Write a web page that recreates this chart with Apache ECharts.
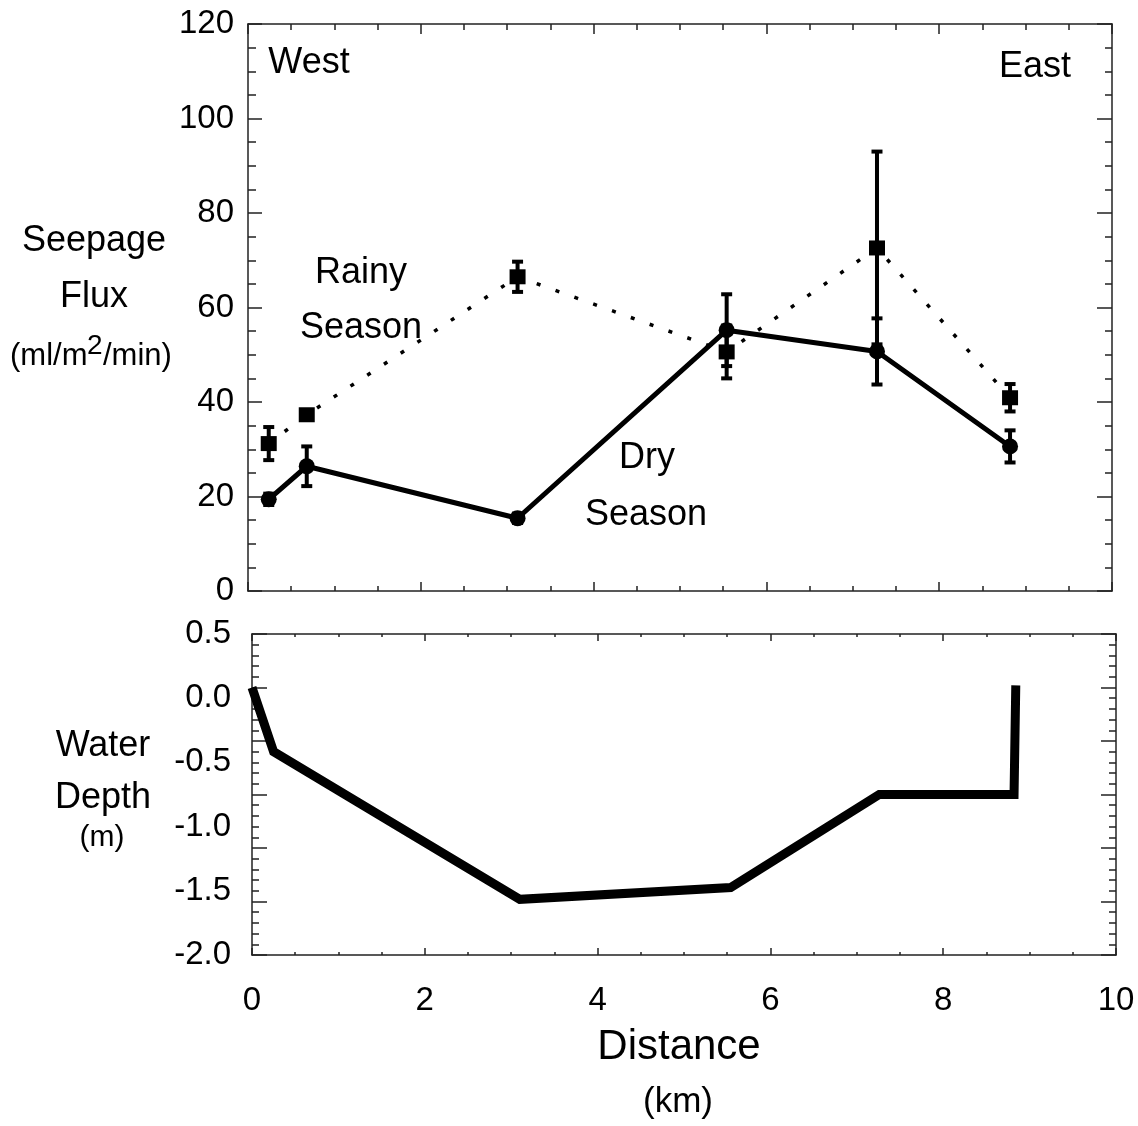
<!DOCTYPE html>
<html>
<head>
<meta charset="utf-8">
<script src="https://cdn.jsdelivr.net/npm/echarts@6/dist/echarts.min.js"></script>
<style>
html,body{margin:0;padding:0;background:#fff;}
#chart{width:1138px;height:1126px;}
</style>
</head>
<body>
<div id="chart"></div>
<script>
// ---- data ----
const distance = [0.24, 0.68, 3.12, 5.54, 7.28, 8.82];           // km
const rainyFlux = [31.2, 37.3, 66.5, 50.6, 72.6, 40.9];           // ml/m2/min
const rainyErr  = [3.5, 1.0, 3.2, 5.6, 20.4, 2.9];
const dryFlux   = [19.4, 26.4, 15.4, 55.2, 50.7, 30.6];
const dryErr    = [1.2, 4.2, 1.0, 7.6, 7.0, 3.4];
const depthDistance = [0.0, 0.25, 3.10, 5.54, 7.26, 8.82, 8.84]; // km
const waterDepth    = [0.0, -0.60, -1.98, -1.87, -1.0, -1.0, 0.02]; // m
const fluxTicks = [0, 20, 40, 60, 80, 100, 120];
const depthTickLabels = ['0.5', '0.0', '-0.5', '-1.0', '-1.5', '-2.0'];
const distanceTicks = [0, 2, 4, 6, 8, 10];

const FONT = '"Liberation Sans", Arial, Helvetica, sans-serif';
const FRAME = '#222';

function zip(a, b) { return a.map((v, i) => [v, b[i]]); }
function errData(x, y, e) { return x.map((v, i) => [v, y[i] - e[i], y[i] + e[i]]); }

function errRender(params, api) {
  const x = api.value(0);
  const lo = api.coord([x, api.value(1)]);
  const hi = api.coord([x, api.value(2)]);
  return {
    type: 'group',
    children: [
      { type: 'line', shape: { x1: lo[0], y1: lo[1], x2: hi[0], y2: hi[1] }, style: { stroke: '#000', lineWidth: 4 } },
      { type: 'rect', shape: { x: hi[0] - 5.5, y: hi[1] - 2, width: 11, height: 4 }, style: { fill: '#000' } },
      { type: 'rect', shape: { x: lo[0] - 5.5, y: lo[1] - 2, width: 11, height: 4 }, style: { fill: '#000' } }
    ]
  };
}

function frameAxis(extra) {
  return Object.assign({
    type: 'value',
    axisLine: { show: true, onZero: false, lineStyle: { color: FRAME, width: 1.5 } },
    splitLine: { show: false },
    axisLabel: { show: false },
    axisTick: { show: true, inside: true, length: 9, lineStyle: { color: FRAME, width: 1.5 } },
    minorTick: { show: true, splitNumber: 4, length: 5, lineStyle: { color: FRAME, width: 1.5 } }
  }, extra);
}

function txt(text, x, y, size, align) {
  return {
    type: 'text', x: x, y: y, silent: true,
    style: { text: text, font: size + 'px ' + FONT, fill: '#000',
      textAlign: align || 'center', textVerticalAlign: 'middle', verticalAlign: 'middle' }
  };
}

const chart = echarts.init(document.getElementById('chart'), null, { renderer: 'canvas' });

const option = {
  animation: false,
  backgroundColor: '#fff',
  grid: [
    { left: 248, top: 24, width: 864, height: 567, outerBoundsMode: 'none', containLabel: false },
    { left: 252, top: 634, width: 864, height: 321, outerBoundsMode: 'none', containLabel: false }
  ],
  xAxis: [
    frameAxis({ gridIndex: 0, position: 'bottom', min: distanceTicks[0], max: distanceTicks[distanceTicks.length - 1], interval: 2 }),
    frameAxis({ gridIndex: 0, position: 'top', min: 0, max: 10, interval: 2, axisTick: { show: true, inside: true, length: 10, lineStyle: { color: FRAME, width: 1.5 } }, minorTick: { show: true, splitNumber: 4, length: 6, lineStyle: { color: FRAME, width: 1.5 } } }),
    frameAxis({ gridIndex: 1, position: 'bottom', min: 0, max: 10, interval: 2,
      axisTick: { show: true, inside: true, length: 7, lineStyle: { color: FRAME, width: 1.5 } },
      minorTick: { show: true, splitNumber: 4, length: 3, lineStyle: { color: FRAME, width: 1.5 } },
      axisLabel: { show: true, fontSize: 33, fontFamily: FONT, color: '#000', margin: 29 } }),
    frameAxis({ gridIndex: 1, position: 'top', min: 0, max: 10, interval: 2,
      axisTick: { show: true, inside: true, length: 7, lineStyle: { color: FRAME, width: 1.5 } },
      minorTick: { show: true, splitNumber: 4, length: 3, lineStyle: { color: FRAME, width: 1.5 } } })
  ],
  yAxis: [
    frameAxis({ gridIndex: 0, position: 'left', min: fluxTicks[0], max: fluxTicks[fluxTicks.length - 1], interval: 20,
      axisTick: { show: true, inside: true, length: 14, lineStyle: { color: FRAME, width: 1.5 } },
      minorTick: { show: true, splitNumber: 4, length: 8, lineStyle: { color: FRAME, width: 1.5 } },
      axisLabel: { show: true, fontSize: 33, fontFamily: FONT, color: '#000', margin: 14 } }),
    frameAxis({ gridIndex: 0, position: 'right', min: 0, max: 120, interval: 20,
      axisTick: { show: true, inside: true, length: 15, lineStyle: { color: FRAME, width: 1.5 } },
      minorTick: { show: true, splitNumber: 4, length: 7, lineStyle: { color: FRAME, width: 1.5 } } }),
    // data / tick axis of the lower panel
    frameAxis({ gridIndex: 1, position: 'left', min: -2.5, max: 0.5, interval: 0.5,
      axisTick: { show: true, inside: true, length: 15, lineStyle: { color: FRAME, width: 1.5 } },
      minorTick: { show: true, splitNumber: 5, length: 7, lineStyle: { color: FRAME, width: 1.5 } } }),
    frameAxis({ gridIndex: 1, position: 'right', min: -2.5, max: 0.5, interval: 0.5,
      axisTick: { show: true, inside: true, length: 15, lineStyle: { color: FRAME, width: 1.5 } },
      minorTick: { show: true, splitNumber: 5, length: 7, lineStyle: { color: FRAME, width: 1.5 } } }),
    // label axis of the lower panel (printed labels)
    { type: 'value', gridIndex: 1, position: 'left', min: -2.0, max: 0.5, interval: 0.5,
      axisLine: { show: false }, axisTick: { show: false }, splitLine: { show: false }, minorTick: { show: false },
      axisLabel: { show: true, fontSize: 33, fontFamily: FONT, color: '#000', margin: 21,
        formatter: function (v) { const i = Math.round((0.5 - v) / 0.5); return depthTickLabels[i] !== undefined ? depthTickLabels[i] : v.toFixed(1); } } }
  ],
  series: [
    { type: 'custom', name: 'Rainy error', xAxisIndex: 0, yAxisIndex: 0, z: 2,
      data: errData(distance, rainyFlux, rainyErr), renderItem: errRender, encode: { x: 0, y: [1, 2] } },
    { type: 'custom', name: 'Dry error', xAxisIndex: 0, yAxisIndex: 0, z: 2,
      data: errData(distance, dryFlux, dryErr), renderItem: errRender, encode: { x: 0, y: [1, 2] } },
    { type: 'line', name: 'Rainy Season', xAxisIndex: 0, yAxisIndex: 0, z: 3,
      data: zip(distance, rainyFlux),
      symbol: 'rect', symbolSize: [16, 15], showSymbol: true,
      itemStyle: { color: '#000' },
      lineStyle: { color: '#000', width: 3.5, type: [4, 16] } },
    { type: 'line', name: 'Dry Season', xAxisIndex: 0, yAxisIndex: 0, z: 4,
      data: zip(distance, dryFlux),
      symbol: 'circle', symbolSize: 16, showSymbol: true,
      itemStyle: { color: '#000' },
      lineStyle: { color: '#000', width: 5 } },
    { type: 'line', name: 'Water Depth', xAxisIndex: 2, yAxisIndex: 2, z: 3,
      data: zip(depthDistance, waterDepth),
      symbol: 'none',
      lineStyle: { color: '#000', width: 9, join: 'miter', cap: 'butt' } }
  ],
  graphic: [
    txt('West', 309, 63, 36),
    txt('East', 1035, 67, 36),
    txt('Rainy', 361, 273, 36),
    txt('Season', 361, 328, 36),
    txt('Dry', 647, 458, 36),
    txt('Season', 646, 515, 36),
    txt('Seepage', 94, 241, 36),
    txt('Flux', 94, 297, 36),
    txt('(ml/m', 10, 356, 31, 'left'),
    txt('2', 87, 346, 28, 'left'),
    txt('/min)', 103, 356, 31, 'left'),
    txt('Water', 103, 746, 36),
    txt('Depth', 103, 798, 36),
    txt('(m)', 102, 838, 30),
    txt('Distance', 679, 1047, 42),
    txt('(km)', 678, 1102, 35)
  ]
};

chart.setOption(option);
</script>
</body>
</html>
